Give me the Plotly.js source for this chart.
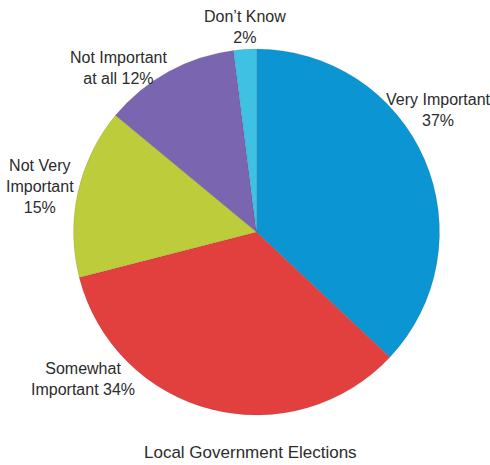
<!DOCTYPE html>
<html><head><meta charset="utf-8">
<script src="https://cdn.plot.ly/plotly-3.0.1.min.js"></script>
<style>html,body{margin:0;padding:0;background:#fff}#chart{width:490px;height:465px}</style>
</head><body><div id="chart"></div>
<script>
const categories = ["Very Important", "Somewhat Important", "Not Very Important", "Not Important at all", "Don\u2019t Know"];
const values = [37, 34, 15, 12, 2];
const labelTexts = ["Very Important<br>37%", "Somewhat<br>Important 34%", "Not Very<br>Important<br>15%", "Not Important<br>at all 12%", "Don\u2019t Know<br>2%"];
const colors = ["#0b95d2", "#e2403f", "#bdcc3b", "#7a65b0", "#3ec1e2"];
const chartTitle = "Local Government Elections";

const labelPos = [[438, 110], [83, 379], [40, 186], [118, 68], [245, 27]];
const W = 490, H = 465;
const FONT = "'Liberation Sans Narrow', 'Arial Narrow', 'Liberation Sans', sans-serif";

const annotations = labelTexts.map((t, i) => ({
  text: t, x: labelPos[i][0] / W, y: 1 - labelPos[i][1] / H,
  xref: 'paper', yref: 'paper', showarrow: false, xanchor: 'center', yanchor: 'middle',
  align: 'center', font: {family: FONT, size: 16, color: '#2b2b2b'}
}));
annotations.push({
  text: chartTitle, x: 250 / W, y: 1 - 452 / H, xref: 'paper', yref: 'paper',
  showarrow: false, xanchor: 'center', yanchor: 'middle',
  font: {family: FONT, size: 17, color: '#2b2b2b'}
});

Plotly.newPlot('chart', [{
  type: 'pie', labels: categories, values: values, sort: false,
  direction: 'clockwise', rotation: 0, textinfo: 'none', hoverinfo: 'label+percent',
  marker: {colors: colors, line: {color: 'rgba(0,0,0,0.15)', width: 0.6}},
  domain: {x: [73 / W, 440 / W], y: [1 - 415 / H, 1 - 49 / H]}
}], {
  width: W, height: H, margin: {l: 0, r: 0, t: 0, b: 0},
  paper_bgcolor: '#fff', showlegend: false, annotations: annotations
}, {staticPlot: true, displayModeBar: false});
</script></body></html>
